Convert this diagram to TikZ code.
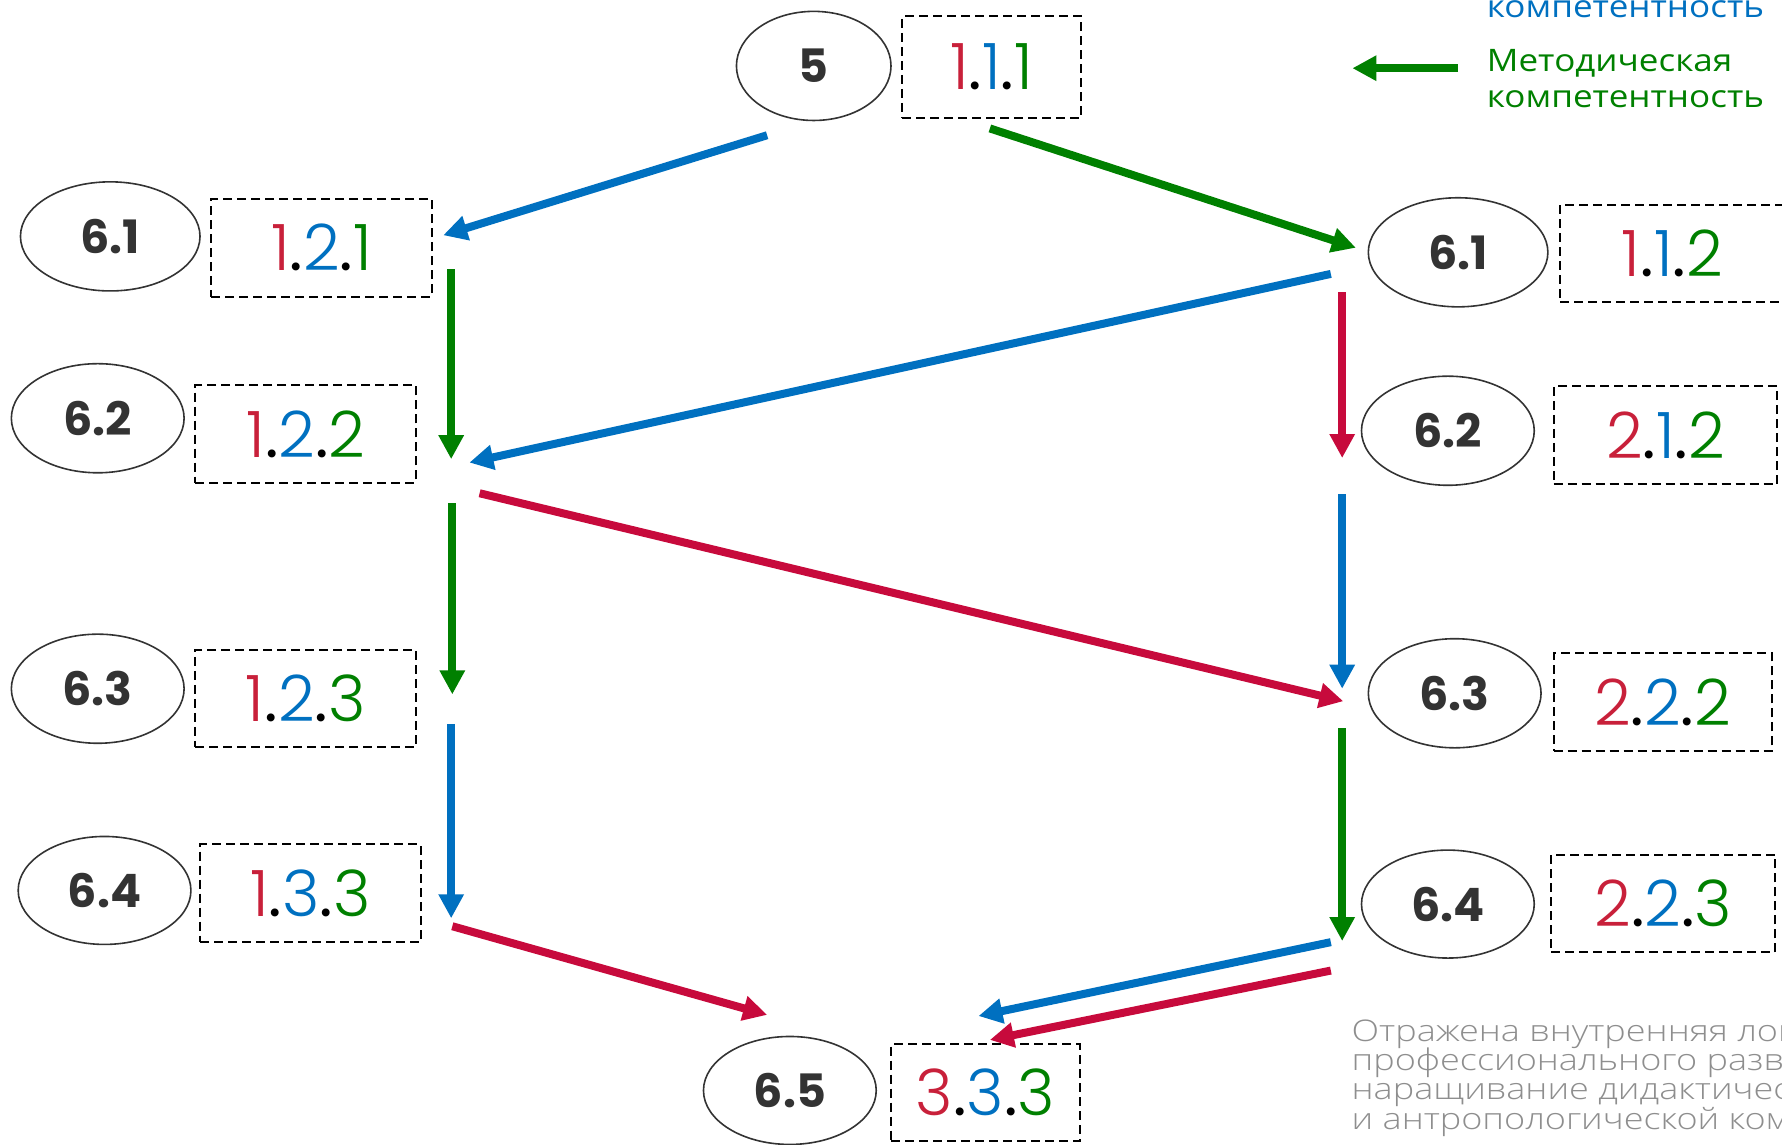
\documentclass[tikz,border=0pt]{standalone}
\usepackage{fontspec}
\usetikzlibrary{arrows.meta,shapes.geometric}
\setmainfont{Poppins}
\IfFontExistsTF{Poppins Light}{\newfontfamily\numfont{Poppins Light}}{\newfontfamily\numfont{Poppins}}
\newfontfamily\dotfont{Poppins}
\newfontfamily\legfont[FakeStretch=1.13]{Open Sans}
\IfFontExistsTF{Open Sans Light}{\newfontfamily\notefont[FakeStretch=1.21]{Open Sans Light}}{\newfontfamily\notefont[FakeStretch=1.21]{Open Sans}}
\definecolor{cred}{HTML}{C70A3C}
\definecolor{dred}{HTML}{C8203A}
\definecolor{cblue}{HTML}{0070C0}
\definecolor{cgreen}{HTML}{008000}
\definecolor{lbl}{HTML}{333333}
\definecolor{gtxt}{HTML}{8E8E8E}
\def\pxu{0.56824pt}
\newcommand\code[3]{{\color{dred}#1}{\dotfont.}{\color{cblue}#2}{\dotfont.}{\color{cgreen}#3}}
\begin{document}
\begin{tikzpicture}[x=0.56824pt, y=-0.56824pt,
  oval/.style={ellipse, draw=lbl, line width=0.8pt, inner sep=0pt, minimum height=96*\pxu,
    text=lbl, font=\bfseries\fontsize{23}{23}\selectfont},
  cbox/.style={draw=black, line width=1pt, dash pattern=on 4.5pt off 2.5pt, inner sep=0pt,
    minimum height=86*\pxu, font=\numfont\fontsize{32}{32}\selectfont},
  arr/.style={line width=4pt, -{Triangle[length=12pt,width=12pt]}},
  leg/.style={anchor=base west, inner sep=0pt, font=\legfont\fontsize{15.5}{15.5}\selectfont},
  note/.style={anchor=base west, inner sep=0pt, text=gtxt, font=\notefont\fontsize{14.9}{14.9}\selectfont}]
\useasboundingbox (0,0) rectangle (1568,1007);
\clip (0,0) rectangle (1568,1007);

% legend
\node[leg, text=cblue] (lb2) at (1308,15) {компетентность};
\node[leg, text=cgreen] (lg1) at (1308,63) {Методическая};
\node[leg, text=cgreen] (lg2) at (1308,95) {компетентность};
\coordinate (lgs) at (1283,60);
\coordinate (lge) at (1190,60);
\draw[arr, cgreen] (lgs) -- (lge);

% top
\node[oval, minimum width=136*\pxu] (n5) at (716,58) {5};
\node[cbox, minimum width=157*\pxu, minimum height=90*\pxu] (b5) at (872.5,59) {\code111};

% left column
\node[oval, minimum width=158*\pxu] (l1) at (97,208) {6.1};
\node[cbox, minimum width=194*\pxu] (bl1) at (283,218) {\code121};
\node[oval, minimum width=152*\pxu] (l2) at (86,368) {6.2};
\node[cbox, minimum width=194*\pxu] (bl2) at (269,382) {\code122};
\node[oval, minimum width=152*\pxu] (l3) at (86,606) {6.3};
\node[cbox, minimum width=194*\pxu] (bl3) at (269,614.5) {\code123};
\node[oval, minimum width=152*\pxu, minimum height=95*\pxu] (l4) at (92,783.5) {6.4};
\node[cbox, minimum width=194*\pxu] (bl4) at (273,786) {\code133};

% right column
\node[oval, minimum width=158*\pxu] (r1) at (1283,222) {6.1};
\node[cbox, minimum width=197*\pxu] (br1) at (1471.5,223) {\code112};
\node[oval, minimum width=152*\pxu] (r2) at (1274,379) {6.2};
\node[cbox, minimum width=197*\pxu] (br2) at (1465.5,383) {\code212};
\node[oval, minimum width=152*\pxu] (r3) at (1280,610) {6.3};
\node[cbox, minimum width=192*\pxu] (br3) at (1463,618) {\code222};
\node[oval, minimum width=152*\pxu, minimum height=95*\pxu] (r4) at (1274,795.5) {6.4};
\node[cbox, minimum width=197*\pxu] (br4) at (1463.5,795) {\code223};

% bottom
\node[oval, minimum width=152*\pxu, minimum height=95*\pxu] (n65) at (695,959.5) {6.5};
\node[cbox, minimum width=166*\pxu, minimum height=85*\pxu] (b65) at (867,961.5) {\code333};

% arrow end points
\coordinate (a1s) at (675,119);  \coordinate (a1e) at (390,207);
\coordinate (a2s) at (871,113);  \coordinate (a2e) at (1193,218);
\coordinate (a3s) at (397,237);  \coordinate (a3e) at (397,404);
\coordinate (a4s) at (1171,241); \coordinate (a4e) at (413,407);
\coordinate (a5s) at (1181,257); \coordinate (a5e) at (1181,403);
\coordinate (a6s) at (398,443);  \coordinate (a6e) at (398,611);
\coordinate (a7s) at (422,434);  \coordinate (a7e) at (1182,617);
\coordinate (a8s) at (1181,435); \coordinate (a8e) at (1181,606);
\coordinate (a9s) at (397,637);  \coordinate (a9e) at (397,808);
\coordinate (a10s) at (1181,641); \coordinate (a10e) at (1181,828);
\coordinate (a11s) at (398,815); \coordinate (a11e) at (675,893);
\coordinate (a12s) at (1171,829); \coordinate (a12e) at (861,894);
\coordinate (a13s) at (1171,854); \coordinate (a13e) at (871,915);

\draw[arr, cblue] (a1s) -- (a1e);
\draw[arr, cgreen] (a2s) -- (a2e);
\draw[arr, cgreen] (a3s) -- (a3e);
\draw[arr, cblue] (a4s) -- (a4e);
\draw[arr, cred] (a5s) -- (a5e);
\draw[arr, cgreen] (a6s) -- (a6e);
\draw[arr, cred] (a7s) -- (a7e);
\draw[arr, cblue] (a8s) -- (a8e);
\draw[arr, cblue] (a9s) -- (a9e);
\draw[arr, cgreen] (a10s) -- (a10e);
\draw[arr, cred] (a11s) -- (a11e);
\draw[arr, cblue] (a12s) -- (a12e);
\draw[arr, cred] (a13s) -- (a13e);

% note
\node[note] (t1) at (1189,916) {Отражена внутренняя логика};
\node[note] (t2) at (1189,941.5) {профессионального развития:};
\node[note] (t3) at (1189,967.5) {наращивание дидактической,};
\node[note] (t4) at (1189,994) {и антропологической компетентности};
\end{tikzpicture}
\end{document}
